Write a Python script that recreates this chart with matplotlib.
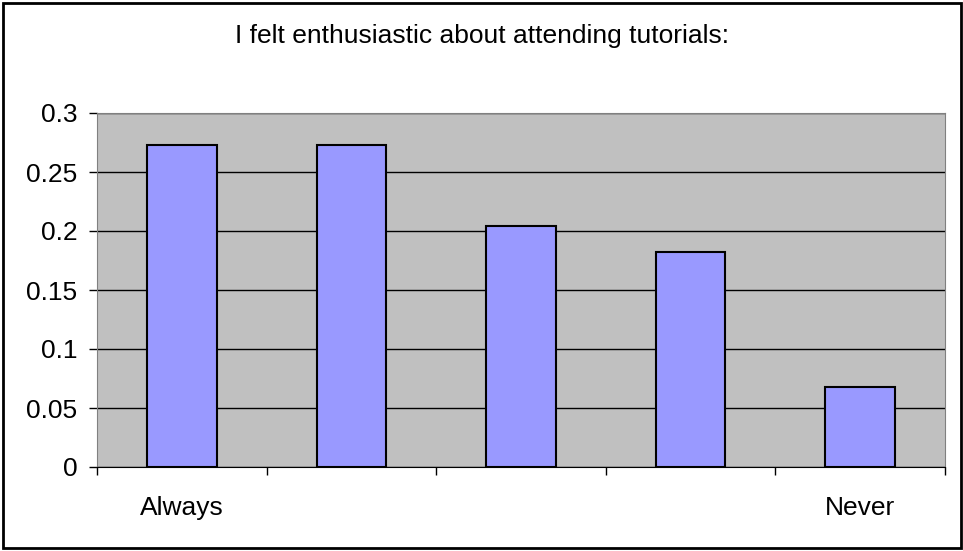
import numpy as np
import matplotlib
matplotlib.use('Agg')
import matplotlib.pyplot as plt
from matplotlib.patches import Rectangle

categories = ['Always', '', '', '', 'Never']
values = [12/44, 12/44, 9/44, 8/44, 3/44]
yticks = [0, 0.05, 0.1, 0.15, 0.2, 0.25, 0.3]

plt.rcParams['font.family'] = ['Liberation Sans', 'DejaVu Sans']

W, H = 963, 551
fig = plt.figure(figsize=(W/100, H/100), dpi=100)
fig.patch.set_facecolor('white')

# outer chart border
fig.patches.append(Rectangle((3/W, 3/H), 958/W, 545/H, transform=fig.transFigure,
                             fill=False, edgecolor='black', lw=2, zorder=10))

ax1 = fig.add_axes([97/W, (H-467)/H, (945-97)/W, (467-113)/H])
ax1.set_facecolor('#C0C0C0')
x = np.arange(len(values))
ax1.bar(x, values, width=0.41, color='#9999FF', edgecolor='black', lw=1.5, zorder=3)

ax1.set_xlim(-0.5, len(values) - 0.5)
ax1.set_ylim(0, 0.3)
ax1.set_yticks(yticks)
ax1.set_yticklabels(['0', '0.05', '0.1', '0.15', '0.2', '0.25', '0.3'])
ax1.yaxis.grid(True, color='black', lw=1, zorder=1)
ax1.set_axisbelow(True)

# ticks at category edges, labels at centres
ax1.set_xticks(np.arange(-0.5, len(values)))
ax1.set_xticklabels([])
ax1.set_xticks(x, minor=True)
ax1.set_xticklabels(categories, minor=True)
ax1.tick_params(axis='x', which='major', direction='out', length=6, width=1)
ax1.tick_params(axis='x', which='minor', length=0, pad=21, labelsize=19)
ax1.tick_params(axis='y', direction='out', length=6, width=1, pad=8, labelsize=19)

for s in ['left', 'top', 'right']:
    ax1.spines[s].set_color('#808080')
ax1.spines['bottom'].set_color('black')

fig.text(0.5, 1 - 36/H, 'I felt enthusiastic about attending tutorials:',
         ha='center', va='center', fontsize=19)

plt.savefig('out.png', dpi=100)
plt.close()
